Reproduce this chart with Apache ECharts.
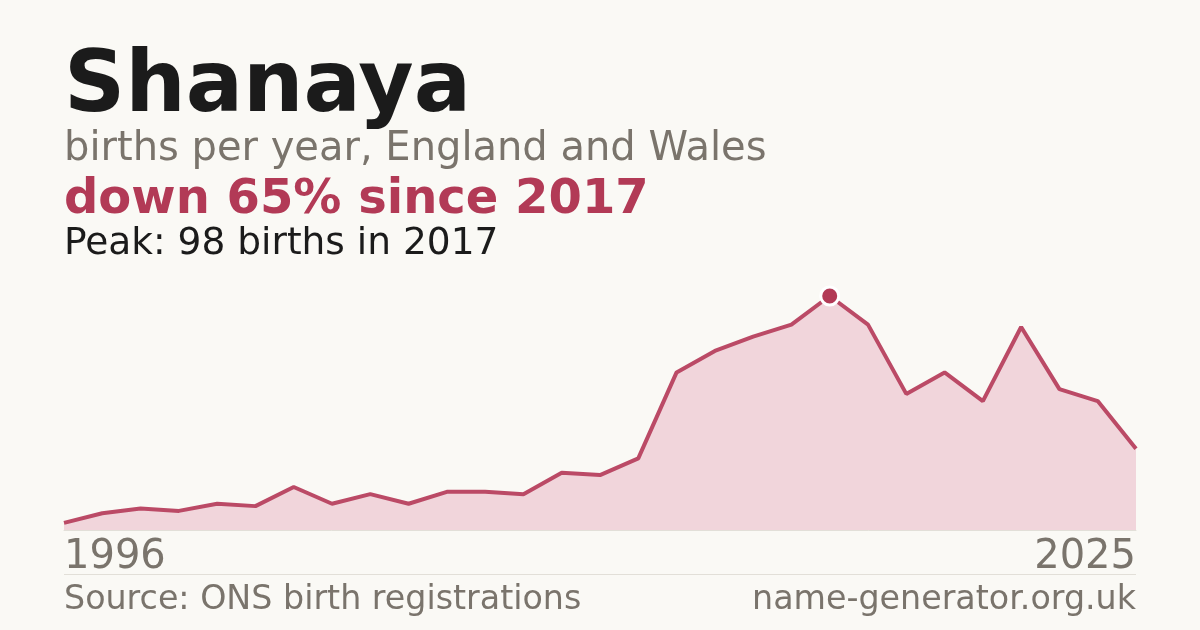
<!DOCTYPE html>
<html lang="en" style="height: 100%">
<head>
    <meta charset="UTF-8">
    <title>Shanaya</title>
    <script src="https://cdn.jsdelivr.net/npm/echarts@6/dist/echarts.min.js"></script>
</head>
<body style="height: 100%; margin: 0; background: #faf9f5">
<div id="container" style="width: 1200px; height: 630px"></div>
</body>

<script type="text/javascript">
    var dom = document.getElementById("container");
    var myChart = echarts.init(dom);

    // births per year
    var years = ['1996', '1998', '1999', '2000', '2001', '2002', '2003', '2004', '2005', '2006',
        '2007', '2008', '2009', '2010', '2011', '2012', '2013', '2014', '2015', '2016',
        '2017', '2018', '2019', '2020', '2021', '2022', '2023', '2024', '2025'];
    var births = [3, 7, 9, 8, 11, 10, 18, 11, 15, 11,
        16, 16, 15, 24, 23, 30, 66, 75, 81, 86,
        98, 86, 57, 66, 54, 85, 59, 54, 34];
    var peakIndex = 20;

    var red = '#b23a56';
    var grey = '#7a746c';
    var font = 'DejaVu Sans';

    var seriesData = births.map(function(v, i) {
        if (i === peakIndex) {
            return {
                value: v,
                symbol: 'circle',
                symbolSize: 18,
                itemStyle: {color: red, borderColor: '#ffffff', borderWidth: 3}
            };
        }
        return v;
    });

    var option = {
        backgroundColor: '#faf9f5',
        animation: false,
        grid: {left: 64, right: 64, top: 296, bottom: 100},
        xAxis: {
            type: 'category',
            data: years,
            boundaryGap: false,
            axisLine: {lineStyle: {color: '#e2dfd8', width: 1}},
            axisTick: {show: false},
            axisLabel: {
                interval: function(i) { return i === 0 || i === years.length - 1; },
                color: grey,
                fontFamily: font,
                fontSize: 40,
                margin: 8,
                alignMinLabel: 'left',
                alignMaxLabel: 'right'
            }
        },
        yAxis: {
            type: 'value',
            min: 0,
            max: 98,
            show: false
        },
        series: [{
            type: 'line',
            data: seriesData,
            symbol: 'none',
            lineStyle: {color: '#bb4a66', width: 4},
            areaStyle: {color: '#f1d5db', opacity: 1},
            z: 3
        }],
        graphic: [
            {type: 'text', left: 64, top: 46, style: {text: 'Shanaya', font: 'bold 85px DejaVu Sans', fill: '#1b1b1b'}},
            {type: 'text', left: 64, top: 130, style: {text: 'births per year, England and Wales', font: '40px DejaVu Sans', fill: grey}},
            {type: 'text', left: 64, top: 177, style: {text: 'down 65% since 2017', font: 'bold 48px DejaVu Sans', fill: red}},
            {type: 'text', left: 64, top: 225, style: {text: 'Peak: 98 births in 2017', font: '37.5px DejaVu Sans', fill: '#1b1b1b'}},
            {type: 'rect', shape: {x: 64, y: 574, width: 1072, height: 1}, style: {fill: '#e2dfd8'}},
            {type: 'text', left: 64, top: 584, style: {text: 'Source: ONS birth registrations', font: '33.3px DejaVu Sans', fill: grey}},
            {type: 'text', right: 64, top: 584, style: {text: 'name-generator.org.uk', font: '33.3px DejaVu Sans', fill: grey}}
        ]
    };

    myChart.setOption(option);
</script>
</html>
